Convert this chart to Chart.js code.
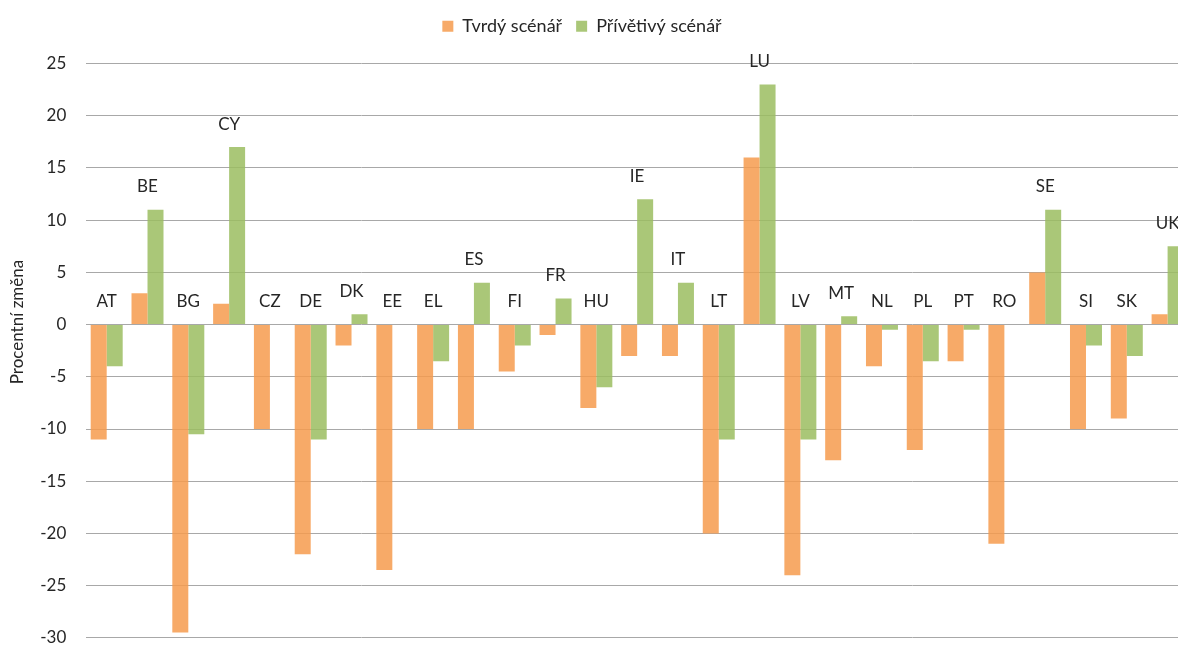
<!DOCTYPE html>
<html><head><meta charset="utf-8">
<script src="https://cdn.jsdelivr.net/npm/chart.js@4.4.1/dist/chart.umd.min.js"></script>
<style>
html,body{margin:0;padding:0;overflow:hidden;background:#fff}
canvas{display:block}
</style>
</head><body>
<canvas id="c" width="1188" height="668"></canvas>
<script>
const categories = ['AT','BE','BG','CY','CZ','DE','DK','EE','EL','ES','FI','FR','HU','IE','IT','LT','LU','LV','MT','NL','PL','PT','RO','SE','SI','SK','UK'];
const hardValues = [-11, 3, -29.5, 2, -10, -22, -2, -23.5, -10, -10, -4.5, -1, -8, -3, -3, -20, 16, -24, -13, -4, -12, -3.5, -21, 5, -10, -9, 1];
const softValues = [-4, 11, -10.5, 17, 0, -11, 1, 0, -3.5, 4, -2, 2.5, -6, 12, 4, -11, 23, -11, 0.8, -0.5, -3.5, -0.5, 0, 11, -2, -3, 7.5];
const seriesNames = ['Tvrdý scénář', 'Přívětivý scénář'];
const yMin = -30, yMax = 25, yStep = 5;
const yTitle = 'Procentní změna';

const FONT = 'Lato, "Open Sans", sans-serif';
const TEXT = '#262626';

const categoryLabels = {
  id: 'categoryLabels',
  afterDatasetsDraw(chart) {
    const {ctx, scales: {x, y}} = chart;
    ctx.save();
    ctx.font = '17px ' + FONT;
    ctx.fillStyle = TEXT;
    ctx.textAlign = 'center';
    ctx.textBaseline = 'middle';
    categories.forEach((c, i) => {
      const top = Math.max(0, hardValues[i], softValues[i]);
      ctx.fillText(c, x.getPixelForValue(i), y.getPixelForValue(top) - 23);
    });
    ctx.restore();
  }
};

const axisTitle = {
  id: 'axisTitle',
  afterDraw(chart) {
    const {ctx} = chart;
    ctx.save();
    ctx.font = '17px ' + FONT;
    ctx.fillStyle = TEXT;
    ctx.textAlign = 'center';
    ctx.textBaseline = 'middle';
    ctx.translate(18, 322);
    ctx.rotate(-Math.PI / 2);
    ctx.fillText(yTitle, 0, 0);
    ctx.restore();
  }
};

const legendShift = {
  id: 'legendShift',
  afterLayout(chart) {
    const l = chart.legend;
    if (l) { l.left -= 12; l.right -= 12; l.top -= 18.3; l.bottom -= 18.3; }
  }
};

new Chart(document.getElementById('c'), {
  type: 'bar',
  data: {
    labels: categories,
    datasets: [
      {label: seriesNames[0], data: hardValues, backgroundColor: 'rgba(246,155,78,0.85)', borderWidth: 0},
      {label: seriesNames[1], data: softValues, backgroundColor: 'rgba(155,189,96,0.85)', borderWidth: 0}
    ]
  },
  options: {
    responsive: false,
    maintainAspectRatio: false,
    animation: false,
    layout: {padding: {left: 0, right: 0, top: 21.6, bottom: 8.7}},
    datasets: {bar: {categoryPercentage: 0.784, barPercentage: 1}},
    plugins: {
      legend: {
        position: 'top',
        labels: {boxWidth: 11, boxHeight: 11, padding: 14, color: TEXT, font: {family: FONT, size: 18}}
      },
      tooltip: {enabled: false}
    },
    scales: {
      x: {display: false},
      y: {
        min: yMin, max: yMax,
        ticks: {stepSize: yStep, padding: 20, color: TEXT, font: {family: FONT, size: 17}},
        grid: {color: '#a8a8a8', lineWidth: 1, drawTicks: false},
        border: {display: false},
        afterFit(scale) { scale.width = 86.3; }
      }
    }
  },
  plugins: [categoryLabels, axisTitle, legendShift]
});
</script>
</body></html>
